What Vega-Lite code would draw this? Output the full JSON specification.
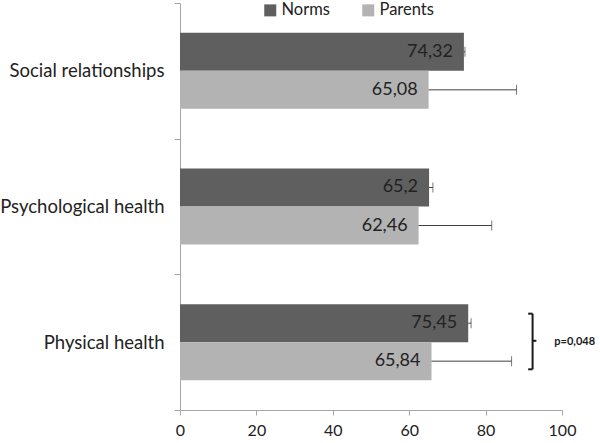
{
  "$schema": "https://vega.github.io/schema/vega-lite/v6.json",
  "width": 382,
  "height": 407,
  "autosize": "none",
  "padding": {"left": 180, "top": 3, "right": 38, "bottom": 33},
  "config": {
    "view": {"stroke": null},
    "font": "Lato",
    "axis": {"domainColor": "#a6a6a6", "tickColor": "#a6a6a6", "labelColor": "#222222", "grid": false, "title": null, "labelOverlap": false},
    "axisQuantitative": {"labelOverlap": false, "tickCount": 10},
    "axisXQuantitative": {"labelOverlap": false, "tickCount": 10},
    "axisX": {"tickCount": 10, "labelOverlap": false, "labelFlush": false, "tickSize": 5, "labelFontSize": 16, "labelPadding": 7}
  },
  "datasets": {
    "bars": [
      {"domain": "Social relationships", "group": "Norms", "value": 74.32, "err": 74.6, "label": "74,32"},
      {"domain": "Social relationships", "group": "Parents", "value": 65.08, "err": 88.1, "label": "65,08"},
      {"domain": "Psychological health", "group": "Norms", "value": 65.2, "err": 66.2, "label": "65,2"},
      {"domain": "Psychological health", "group": "Parents", "value": 62.46, "err": 81.6, "label": "62,46"},
      {"domain": "Physical health", "group": "Norms", "value": 75.45, "err": 76.2, "label": "75,45"},
      {"domain": "Physical health", "group": "Parents", "value": 65.84, "err": 86.8, "label": "65,84"}
    ],
    "bracket": [
      {"x": 92.3, "x2": 92.3, "y": 2.29, "y2": 2.70},
      {"x": 91.15, "x2": 92.3, "y": 2.29, "y2": 2.29},
      {"x": 91.15, "x2": 92.3, "y": 2.70, "y2": 2.70},
      {"x": 92.3, "x2": 93.3, "y": 2.49, "y2": 2.49}
    ],
    "note": [
      {"x": 98.0, "y": 2.5, "text": "p=0,048"}
    ]
  },
  "layer": [
    {
      "data": {"name": "bars"},
      "encoding": {
        "y": {
          "field": "domain", "type": "nominal",
          "sort": ["Social relationships", "Psychological health", "Physical health"],
          "scale": {"paddingInner": 0, "paddingOuter": 0},
          "axis": {"tickBand": "extent", "tickSize": 6, "labelFontSize": 18.5, "labelPadding": 10, "labelLimit": 220}
        },
        "yOffset": {
          "field": "group", "type": "nominal",
          "sort": ["Norms", "Parents"],
          "scale": {"paddingInner": 0, "paddingOuter": 0.785}
        }
      },
      "layer": [
        {
          "mark": {"type": "bar"},
          "encoding": {
            "x": {"field": "value", "type": "quantitative", "scale": {"domain": [0, 100], "nice": false}, "axis": {"values": [0, 10, 20, 30, 40, 50, 60, 70, 80, 90, 100], "labelOverlap": false, "labelBound": false}},
            "color": {
              "field": "group", "type": "nominal",
              "scale": {"domain": ["Norms", "Parents"], "range": ["#5f5f5f", "#b3b3b3"]},
              "legend": {
                "title": null, "orient": "none", "direction": "horizontal",
                "legendX": 82, "legendY": -1,
                "symbolType": "square", "symbolSize": 144, "symbolStrokeWidth": 0,
                "labelFontSize": 16.5, "labelColor": "#222222", "labelOffset": 3, "columnPadding": 30
              }
            }
          }
        },
        {
          "mark": {"type": "rule", "color": "#404040", "strokeWidth": 1},
          "encoding": {
            "x": {"field": "value", "type": "quantitative"},
            "x2": {"field": "err"}
          }
        },
        {
          "mark": {"type": "tick", "orient": "vertical", "color": "#404040", "size": 10, "thickness": 1},
          "encoding": {
            "x": {"field": "err", "type": "quantitative"}
          }
        },
        {
          "mark": {"type": "text", "align": "right", "baseline": "middle", "dx": -11, "fontSize": 18, "color": "#222222"},
          "encoding": {
            "x": {"field": "value", "type": "quantitative"},
            "text": {"field": "label"}
          }
        }
      ]
    },
    {
      "data": {"name": "bracket"},
      "mark": {"type": "rule", "color": "#1a1a1a", "strokeWidth": 2},
      "encoding": {
        "x": {"field": "x", "type": "quantitative"},
        "x2": {"field": "x2"},
        "y": {"field": "y", "type": "quantitative", "scale": {"domain": [0, 3], "reverse": true, "nice": false, "zero": false}, "axis": null},
        "y2": {"field": "y2"}
      }
    },
    {
      "data": {"name": "note"},
      "mark": {"type": "text", "align": "left", "baseline": "middle", "fontSize": 11, "fontWeight": "bold", "color": "#1a1a1a"},
      "encoding": {
        "x": {"field": "x", "type": "quantitative"},
        "y": {"field": "y", "type": "quantitative", "scale": {"domain": [0, 3], "reverse": true, "nice": false, "zero": false}, "axis": null},
        "text": {"field": "text"}
      }
    }
  ],
  "resolve": {"scale": {"y": "independent"}}
}
